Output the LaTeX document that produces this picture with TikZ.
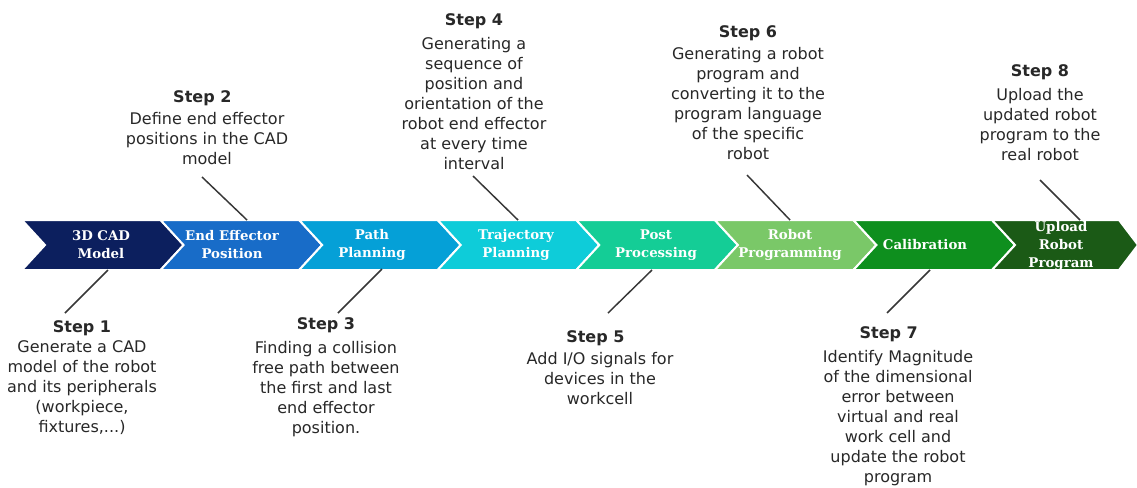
\documentclass[tikz,border=0pt]{standalone}
\usepackage{fontspec}
\setmainfont{DejaVu Sans}
\newfontfamily\chevfont{DejaVu Serif}
\definecolor{cA}{RGB}{12,31,94}
\definecolor{cB}{RGB}{24,108,200}
\definecolor{cC}{RGB}{5,160,215}
\definecolor{cD}{RGB}{14,204,217}
\definecolor{cE}{RGB}{20,205,150}
\definecolor{cF}{RGB}{122,200,104}
\definecolor{cG}{RGB}{14,143,30}
\definecolor{cH}{RGB}{27,90,22}
\definecolor{txtgray}{RGB}{40,40,40}
\definecolor{linegray}{RGB}{55,55,55}
\begin{document}
\begin{tikzpicture}[x=0.75pt,y=-0.75pt,
  stepbox/.style={anchor=north, align=center, inner sep=0pt, text=txtgray, font=\fontsize{12}{15}\selectfont},
  chevlabel/.style={align=center, inner sep=0pt, text=white, font=\chevfont\bfseries\fontsize{10}{13.5}\selectfont},
  link/.style={draw=linegray, line width=1.1pt},
  chev/.style={draw=white, line width=1.5pt, line join=miter}]
\useasboundingbox (0,0) rectangle (1137,487);
\clip (0,0) rectangle (1137,487);
\fill[white] (0,0) rectangle (1137,487);
% chevrons
\foreach \i/\col in {0/cA,1/cB,2/cC,3/cD,4/cE,5/cF,6/cG}{
  \pgfmathsetmacro\L{22+138.57*\i}
  \pgfmathsetmacro\R{22+138.57*(\i+1)}
  \path[fill=\col, chev] (\L,220) -- (\R,220) -- (\R+23,245) -- (\R,270) -- (\L,270) -- (\L+23,245) -- cycle;
}
\path[fill=cH, chev] (992,220) -- (1119,220) -- (1138,245) -- (1119,270) -- (992,270) -- (1015,245) -- cycle;
% chevron labels
\node[chevlabel] (lab1) at (101,245) {3D CAD\\Model};
\node[chevlabel] (lab2) at (232,245) {End Effector\\Position};
\node[chevlabel] (lab3) at (372,245) {Path\\Planning};
\node[chevlabel] (lab4) at (516,245) {Trajectory\\Planning};
\node[chevlabel] (lab5) at (656,245) {Post\\Processing};
\node[chevlabel] (lab6) at (790,245) {Robot\\Programming};
\node[chevlabel] (lab7) at (925,245) {Calibration};
\node[chevlabel] (lab8) at (1061,246) {Upload\\Robot\\Program};
% step texts
\node[stepbox] (s1) at (82,320) {\textbf{Step 1}\\[0pt]Generate a CAD\\model of the robot\\and its peripherals\\(workpiece,\\fixtures,...)};
\node[stepbox] (s2) at (207,90) {\textbf{Step 2}\kern7pt\\[1.5pt]Define end effector\\positions in the CAD\\model};
\node[stepbox] (s3) at (326,317) {\textbf{Step 3}\\[3pt]Finding a collision\\free path between\\the first and last\\end effector\\position.};
\node[stepbox] (s4) at (474,13) {\textbf{Step 4}\\[3pt]Generating a\\sequence of\\position and\\orientation of the\\robot end effector\\at every time\\interval};
\node[stepbox] (s5) at (600,330) {\textbf{Step 5}\kern7pt\\[1.5pt]Add I/O signals for\\devices in the\\workcell};
\node[stepbox] (s6) at (748,25) {\textbf{Step 6}\\[1.5pt]Generating a robot\\program and\\converting it to the\\program language\\of the specific\\robot};
\node[stepbox] (s7) at (898,326) {\textbf{Step 7}\kern14pt\\[3pt]Identify Magnitude\\of the dimensional\\error between\\virtual and real\\work cell and\\update the robot\\program};
\node[stepbox] (s8) at (1040,64) {\textbf{Step 8}\\[3.5pt]Upload the\\updated robot\\program to the\\real robot};
% connectors
\coordinate (a1) at (108,270); \coordinate (b1) at (65,313);
\coordinate (a2) at (247,220); \coordinate (b2) at (202,177);
\coordinate (a3) at (382,269); \coordinate (b3) at (338,313);
\coordinate (a4) at (518,220); \coordinate (b4) at (473,176);
\coordinate (a5) at (652,270); \coordinate (b5) at (608,313);
\coordinate (a6) at (790,220); \coordinate (b6) at (747,175);
\coordinate (a7) at (930,270); \coordinate (b7) at (887,313);
\coordinate (a8) at (1080,220); \coordinate (b8) at (1040,180);
\foreach \k in {1,...,8}{\draw[link] (a\k) -- (b\k);}
\end{tikzpicture}
\end{document}
